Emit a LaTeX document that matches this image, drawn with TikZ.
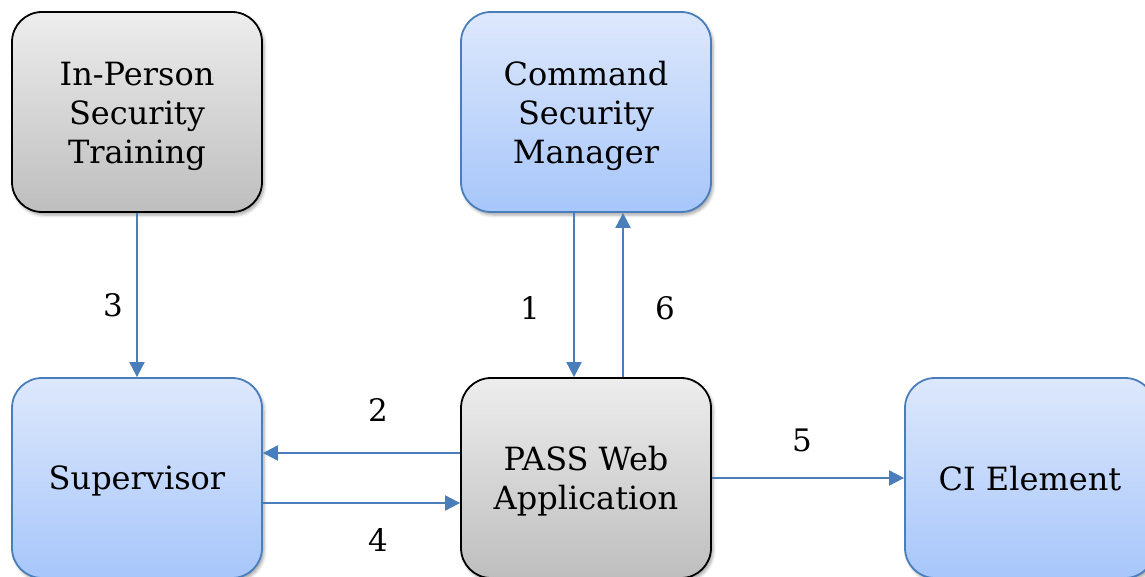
\documentclass[tikz,border=0pt]{standalone}
\usepackage{fontspec}
\setmainfont{DejaVu Serif}
\usetikzlibrary{arrows.meta,shadows.blur}
\definecolor{edgeblue}{HTML}{4A7EBB}
\definecolor{bluetop}{HTML}{DDE8FC}
\definecolor{bluebot}{HTML}{A7C6FA}
\definecolor{graytop}{HTML}{EDEDED}
\definecolor{graybot}{HTML}{BEBEBE}
\tikzset{
  box/.style={rounded corners=30pt, minimum width=250pt, minimum height=200pt,
    line width=1.8pt,
    blur shadow={shadow xshift=2pt, shadow yshift=-3pt, shadow blur radius=3pt, shadow opacity=35}},
  graybox/.style={box, draw=black, top color=graytop, bottom color=graybot},
  bluebox/.style={box, draw=edgeblue, top color=bluetop, bottom color=bluebot},
  boxtext/.style={align=center, font=\fontsize{32}{39}\selectfont, inner sep=0pt},
  arr/.style={draw=edgeblue, line width=2pt, -{Triangle[length=15pt,width=15pt]}, edgeblue},
  num/.style={font=\fontsize{31}{36}\selectfont}
}
\begin{document}
\begin{tikzpicture}[x=1pt,y=-1pt]
  \useasboundingbox (0,0) rectangle (1145,577);
  \clip (0,0) rectangle (1145,577);
  % process boxes
  \node[graybox] (ipt)  at (137,112) {};
  \node[bluebox] (csm)  at (586,112) {};
  \node[bluebox] (sup)  at (137,478) {};
  \node[graybox] (pass) at (586,478) {};
  \node[bluebox] (ci)   at (1030,478) {};
  % box captions
  \node[boxtext] (ipt-t)  at ([yshift=-4pt]ipt.center)  {In-Person\\Security\\Training};
  \node[boxtext] (csm-t)  at ([yshift=-4pt]csm.center)  {Command\\Security\\Manager};
  \node[boxtext] (sup-t)  at ([yshift=-3pt]sup.center)  {Supervisor};
  \node[boxtext] (pass-t) at ([yshift=-3pt]pass.center) {PASS Web\\Application};
  \node[boxtext] (ci-t)   at ([yshift=-1pt]ci.center)   {CI Element};
  % flows
  \draw[arr] (ipt.south) -- (sup.north);
  \draw[arr] ([xshift=-12pt]csm.south) -- ([xshift=-12pt]pass.north);
  \draw[arr] ([xshift=37pt]pass.north) -- ([xshift=37pt]csm.south);
  \draw[arr] ([yshift=25pt]pass.west) -- ([yshift=25pt]sup.east);
  \draw[arr] ([yshift=-25pt]sup.east) -- ([yshift=-25pt]pass.west);
  \draw[arr] (pass.east) -- (ci.west);
  % step numbers
  \node[num] (n3) at (113,305) {3};
  \node[num] (n1) at (530,308) {1};
  \node[num] (n6) at (665,308) {6};
  \node[num] (n2) at (378,410) {2};
  \node[num] (n4) at (378,540) {4};
  \node[num] (n5) at (802,440) {5};
\end{tikzpicture}
\end{document}
